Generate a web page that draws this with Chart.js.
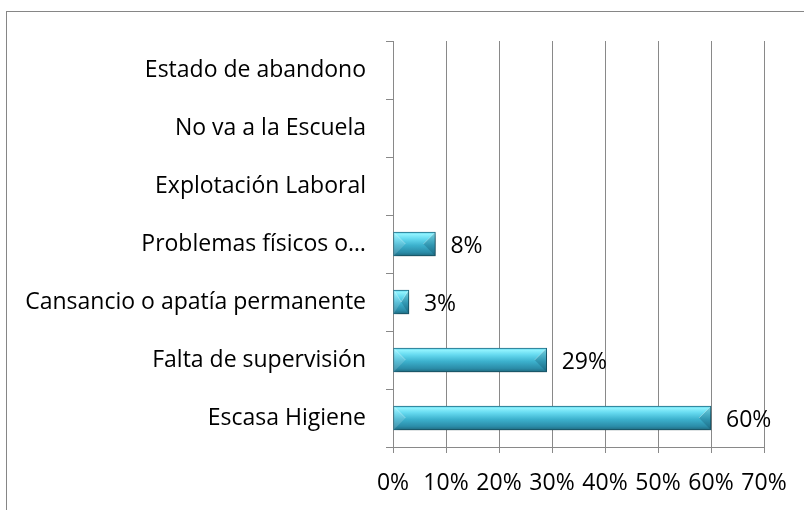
<!DOCTYPE html>
<html>
<head>
<meta charset="utf-8">
<script src="https://cdn.jsdelivr.net/npm/chart.js@4/dist/chart.umd.min.js"></script>
<style>
  html, body { margin: 0; padding: 0; background: #fff; width: 804px; height: 510px; overflow: hidden; }
  #frame { position: absolute; left: 6px; top: 11px; width: 900px; height: 600px; border: 1px solid #868686; box-sizing: border-box; }
  #wrap { position: absolute; left: 0; top: 0; width: 804px; height: 510px; }
</style>
</head>
<body>
<div id="frame"></div>
<div id="wrap"><canvas id="c" width="804" height="510"></canvas></div>
<script>
const categories = [
  "Estado de abandono",
  "No va a la Escuela",
  "Explotación Laboral",
  "Problemas físicos o…",
  "Cansancio o apatía permanente",
  "Falta de supervisión",
  "Escasa Higiene"
];
const values = [0, 0, 0, 8, 3, 29, 60];
const tickValues = [0, 10, 20, 30, 40, 50, 60, 70];

const FONT = "'Open Sans', sans-serif";

function makeGradient(c, bar) {
  const h = bar.height;
  const top = bar.y - h / 2;
  const g = c.createLinearGradient(0, top, 0, top + h);
  g.addColorStop(0, '#5ed4ec');
  g.addColorStop(0.1, '#8ef1fd');
  g.addColorStop(0.28, '#66daf0');
  g.addColorStop(0.55, '#3db2ce');
  g.addColorStop(0.85, '#2b8ca8');
  g.addColorStop(1, '#1f6a80');
  return g;
}

const gradientPlugin = {
  id: 'gradientFill',
  beforeDatasetsDraw(chart) {
    const c = chart.ctx;
    const meta = chart.getDatasetMeta(0);
    meta.data.forEach(bar => {
      if (bar.height) bar.options.backgroundColor = makeGradient(c, bar);
    });
  }
};

const shadowPlugin = {
  id: 'shadow',
  beforeDatasetDraw(chart) {
    const c = chart.ctx;
    c.save();
    c.shadowColor = 'rgba(0,0,0,0.4)';
    c.shadowBlur = 6;
    c.shadowOffsetX = 2;
    c.shadowOffsetY = 3;
  },
  afterDatasetDraw(chart) {
    chart.ctx.restore();
  }
};

const bevelPlugin = {
  id: 'bevel',
  afterDatasetsDraw(chart) {
    const c = chart.ctx;
    const meta = chart.getDatasetMeta(0);
    c.save();
    meta.data.forEach((bar, i) => {
      if (!values[i]) return;
      const h = bar.height;
      const top = bar.y - h / 2, bot = bar.y + h / 2;
      const left = bar.base, right = bar.x;
      const d = Math.min(h / 2, (right - left) / 2);
      c.fillStyle = 'rgba(255,255,255,0.15)';
      c.beginPath();
      c.moveTo(left, top); c.lineTo(left + d, bar.y); c.lineTo(left, bot); c.closePath(); c.fill();
      c.fillStyle = 'rgba(0,40,60,0.2)';
      c.beginPath();
      c.moveTo(right, top); c.lineTo(right - d, bar.y); c.lineTo(right, bot); c.closePath(); c.fill();
      c.strokeStyle = 'rgba(255,255,255,0.3)';
      c.lineWidth = 1;
      c.beginPath();
      c.moveTo(left + 1, top + 1); c.lineTo(left + d, bar.y);
      c.moveTo(right - 1, top + 1); c.lineTo(right - d, bar.y);
      c.stroke();
    });
    c.restore();
  }
};

const labelPlugin = {
  id: 'valueLabels',
  afterDatasetsDraw(chart) {
    const c = chart.ctx;
    const meta = chart.getDatasetMeta(0);
    c.save();
    c.font = '23px ' + FONT;
    c.fillStyle = '#000';
    c.textAlign = 'left';
    c.textBaseline = 'middle';
    meta.data.forEach((bar, i) => {
      if (!values[i]) return;
      c.fillText(values[i] + '%', bar.x + 15, bar.y + 2);
    });
    c.restore();
  }
};

new Chart(document.getElementById('c'), {
  type: 'bar',
  data: {
    labels: categories,
    datasets: [{
      data: values,
      backgroundColor: () => '#3fb8d3',
      borderColor: '#23748c',
      borderWidth: 1,
      barThickness: 24,
      borderSkipped: false
    }]
  },
  plugins: [gradientPlugin, shadowPlugin, bevelPlugin, labelPlugin],
  options: {
    indexAxis: 'y',
    responsive: false,
    animation: false,
    devicePixelRatio: 1,
    layout: { padding: { top: 41, right: 40, bottom: 0, left: 0 } },
    plugins: { legend: { display: false }, tooltip: { enabled: false } },
    scales: {
      x: {
        min: 0,
        max: 70,
        afterBuildTicks(scale) { scale.ticks = tickValues.map(v => ({ value: v })); },
        afterFit(scale) { scale.height = 63; },
        grid: { color: '#898989', lineWidth: 1, tickLength: 6, drawTicks: true },
        border: { color: '#898989', width: 1 },
        ticks: {
          color: '#000',
          font: { family: FONT, size: 23 },
          padding: 17,
          maxRotation: 0,
          callback: v => v + '%'
        }
      },
      y: {
        afterFit(scale) { scale.width = 393; },
        grid: { drawOnChartArea: false, color: '#898989', tickLength: 7, offset: true },
        border: { color: '#898989', width: 1 },
        ticks: {
          color: '#000',
          font: { family: FONT, size: 23 },
          padding: 20,
          autoSkip: false
        }
      }
    }
  }
});
</script>
</body>
</html>
